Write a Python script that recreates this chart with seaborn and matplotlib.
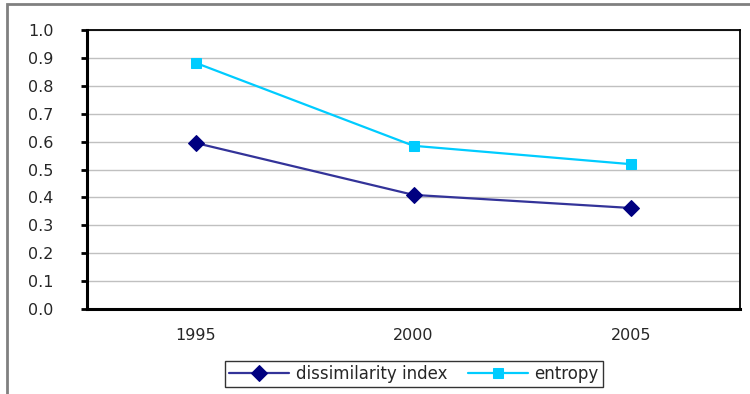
import matplotlib
matplotlib.use("Agg")
import matplotlib.pyplot as plt
import seaborn as sns
import pandas as pd
from matplotlib.patches import Rectangle

# data
years = ["1995", "2000", "2005"]
dissimilarity = [0.595, 0.409, 0.362]
entropy = [0.882, 0.585, 0.519]
y_ticks = [0.0, 0.1, 0.2, 0.3, 0.4, 0.5, 0.6, 0.7, 0.8, 0.9, 1.0]

df = pd.DataFrame({"year": years, "dissimilarity index": dissimilarity, "entropy": entropy})

sns.set_theme(style="white")
plt.rcParams["font.family"] = ["DejaVu Sans"]

fig = plt.figure(figsize=(7.5, 3.94), dpi=100)
ax = fig.add_axes([87 / 750, 1 - 309 / 394, (740 - 87) / 750, (309 - 30) / 394])

sns.lineplot(data=df, x="year", y="dissimilarity index", ax=ax, color="#333399",
             marker="D", markersize=8.5, markerfacecolor="#000080", markeredgecolor="#000080",
             linewidth=1.6, label="dissimilarity index")
sns.lineplot(data=df, x="year", y="entropy", ax=ax, color="#00CCFF",
             marker="s", markersize=7.5, markerfacecolor="#00CCFF", markeredgecolor="#00CCFF",
             linewidth=1.6, label="entropy")

ax.set_xlim(-0.5, len(years) - 0.5)
ax.set_ylim(0, 1.0)
ax.set_yticks(y_ticks)
ax.set_yticklabels([f"{t:.1f}" for t in y_ticks], fontsize=11.5)
ax.yaxis.grid(True, color="#c0c0c0", linewidth=1)
ax.xaxis.grid(False)
ax.set_xlabel("")
ax.set_ylabel("")

# category labels in band centers, tick marks on band edges
ax.set_xticks(range(len(years)))
ax.set_xticklabels(years, fontsize=11.5)
ax.tick_params(axis="x", which="major", length=0, pad=14)
ax.set_xticks([i + 0.5 for i in range(len(years) - 1)], minor=True)
ax.tick_params(axis="x", which="minor", length=5, width=2, color="black", direction="out")
ax.tick_params(axis="y", length=4, width=2, color="black", direction="out", pad=20, left=True)

for side in ["left", "bottom"]:
    ax.spines[side].set_linewidth(2.2)
    ax.spines[side].set_color("black")
for side in ["top", "right"]:
    ax.spines[side].set_linewidth(1.3)
    ax.spines[side].set_color("black")

ax.get_legend().remove()
handles, labels = ax.get_legend_handles_labels()
leg = fig.legend(handles, labels, loc="center", bbox_to_anchor=(414 / 750, 1 - 374 / 394),
                 ncol=2, frameon=True, fancybox=False, fontsize=12, handlelength=3.6,
                 columnspacing=1.2, handletextpad=0.4, borderpad=0.25, borderaxespad=0)
leg.get_frame().set_edgecolor("black")
leg.get_frame().set_linewidth(1)

# outer chart border (cut off at bottom and right like the reference)
fig.add_artist(Rectangle((7 / 750, -0.05), 1.2, 1 - 4 / 394 + 0.05, transform=fig.transFigure,
                         fill=False, edgecolor="#808080", linewidth=2))

fig.savefig("out.png", dpi=100)
